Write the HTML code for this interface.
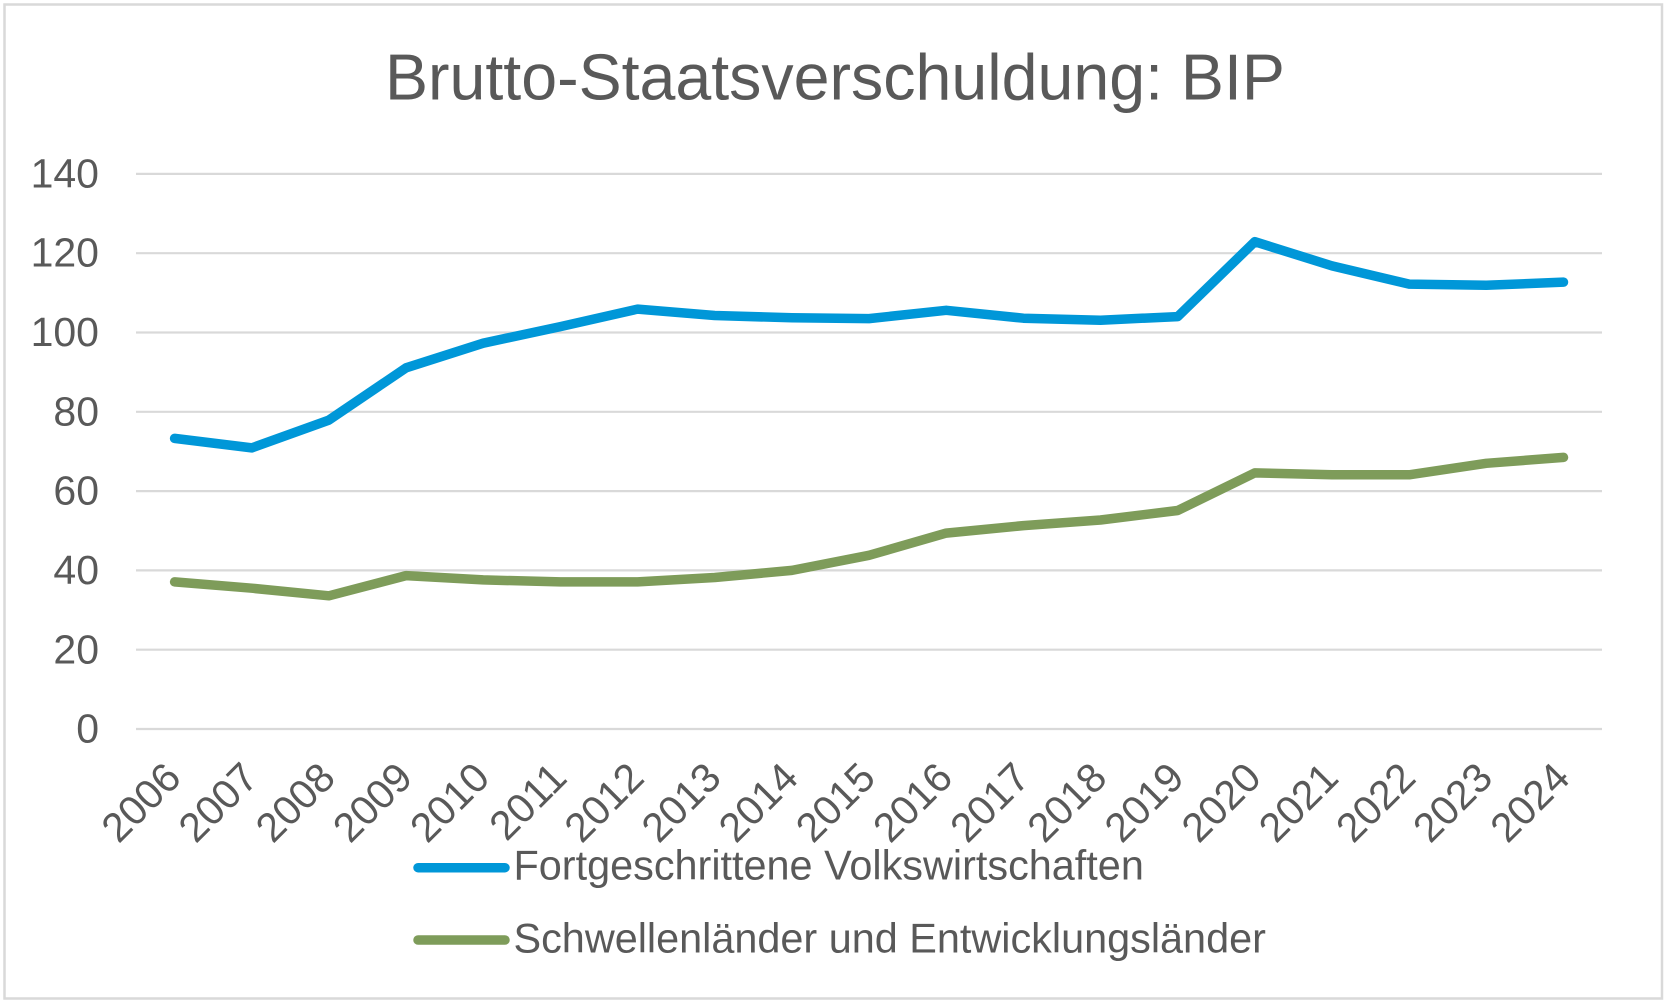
<!DOCTYPE html>
<html>
<head>
<meta charset="utf-8">
<style>
  html, body { margin: 0; padding: 0; background: #ffffff; }
  svg { display: block; }
  text { font-family: "Liberation Sans", Arial, sans-serif; fill: #595959; }
</style>
</head>
<body>
<svg width="1668" height="1008" viewBox="0 0 1668 1008" xmlns="http://www.w3.org/2000/svg">
  <rect x="0" y="0" width="1668" height="1008" fill="#ffffff"/>
  <rect x="4.5" y="4.5" width="1657.5" height="994" fill="none" stroke="#d9d9d9" stroke-width="2.5"/>

  <!-- Title -->
  <text x="385" y="99.5" font-size="64.5">Brutto-Staatsverschuldung: BIP</text>

  <!-- Gridlines -->
  <g stroke="#d9d9d9" stroke-width="2.2">
    <line x1="136" y1="173.9" x2="1602" y2="173.9"/>
    <line x1="136" y1="253.2" x2="1602" y2="253.2"/>
    <line x1="136" y1="332.5" x2="1602" y2="332.5"/>
    <line x1="136" y1="411.8" x2="1602" y2="411.8"/>
    <line x1="136" y1="491.1" x2="1602" y2="491.1"/>
    <line x1="136" y1="570.4" x2="1602" y2="570.4"/>
    <line x1="136" y1="649.7" x2="1602" y2="649.7"/>
    <line x1="136" y1="729" x2="1602" y2="729"/>
  </g>

  <!-- Y axis labels -->
  <g font-size="41" text-anchor="end">
    <text x="99" y="187.5">140</text>
    <text x="99" y="266.5">120</text>
    <text x="99" y="346">100</text>
    <text x="99" y="425.5">80</text>
    <text x="99" y="504.5">60</text>
    <text x="99" y="584">40</text>
    <text x="99" y="663.5">20</text>
    <text x="99" y="742.5">0</text>
  </g>

  <!-- X axis labels -->
  <g font-size="41" text-anchor="end">
    <text transform="translate(183.1,780) rotate(-45)">2006</text>
    <text transform="translate(260.3,780) rotate(-45)">2007</text>
    <text transform="translate(337.4,780) rotate(-45)">2008</text>
    <text transform="translate(414.6,780) rotate(-45)">2009</text>
    <text transform="translate(491.7,780) rotate(-45)">2010</text>
    <text transform="translate(568.9,780) rotate(-45)">2011</text>
    <text transform="translate(646.1,780) rotate(-45)">2012</text>
    <text transform="translate(723.2,780) rotate(-45)">2013</text>
    <text transform="translate(800.4,780) rotate(-45)">2014</text>
    <text transform="translate(877.5,780) rotate(-45)">2015</text>
    <text transform="translate(954.7,780) rotate(-45)">2016</text>
    <text transform="translate(1031.9,780) rotate(-45)">2017</text>
    <text transform="translate(1109,780) rotate(-45)">2018</text>
    <text transform="translate(1186.2,780) rotate(-45)">2019</text>
    <text transform="translate(1263.3,780) rotate(-45)">2020</text>
    <text transform="translate(1340.5,780) rotate(-45)">2021</text>
    <text transform="translate(1417.7,780) rotate(-45)">2022</text>
    <text transform="translate(1494.8,780) rotate(-45)">2023</text>
    <text transform="translate(1572,780) rotate(-45)">2024</text>
  </g>

  <!-- Series: Fortgeschrittene Volkswirtschaften -->
  <polyline fill="none" stroke="#0097d8" stroke-width="9.5" stroke-linecap="round" stroke-linejoin="round"
    points="174.6,438.4 251.8,447.9 328.9,420.1 406.1,367.8 483.2,343.2 560.4,326.6 637.6,309.1 714.7,315.5 791.9,317.8 869,318.6 946.2,310.3 1023.4,318.2 1100.5,320.2 1177.7,316.6 1254.8,241.7 1332,265.9 1409.2,284.1 1486.3,285.3 1563.5,282.1"/>

  <!-- Series: Schwellenländer und Entwicklungsländer -->
  <polyline fill="none" stroke="#7e9c5a" stroke-width="9.5" stroke-linecap="round" stroke-linejoin="round"
    points="174.6,581.9 251.8,588.2 328.9,595.8 406.1,575.6 483.2,579.9 560.4,581.9 637.6,581.9 714.7,577.5 791.9,570.4 869,555.3 946.2,533.1 1023.4,525.6 1100.5,520 1177.7,510.5 1254.8,472.9 1332,474.8 1409.2,474.8 1486.3,463.3 1563.5,457.4"/>

  <!-- Legend -->
  <line x1="418" y1="867.7" x2="505" y2="867.7" stroke="#0097d8" stroke-width="9.5" stroke-linecap="round"/>
  <text x="513.5" y="879.5" font-size="41.4">Fortgeschrittene Volkswirtschaften</text>
  <line x1="418" y1="940" x2="505" y2="940" stroke="#7e9c5a" stroke-width="9.5" stroke-linecap="round"/>
  <text x="513.5" y="952.5" font-size="41.4">Schwellenländer und Entwicklungsländer</text>
</svg>
</body>
</html>
